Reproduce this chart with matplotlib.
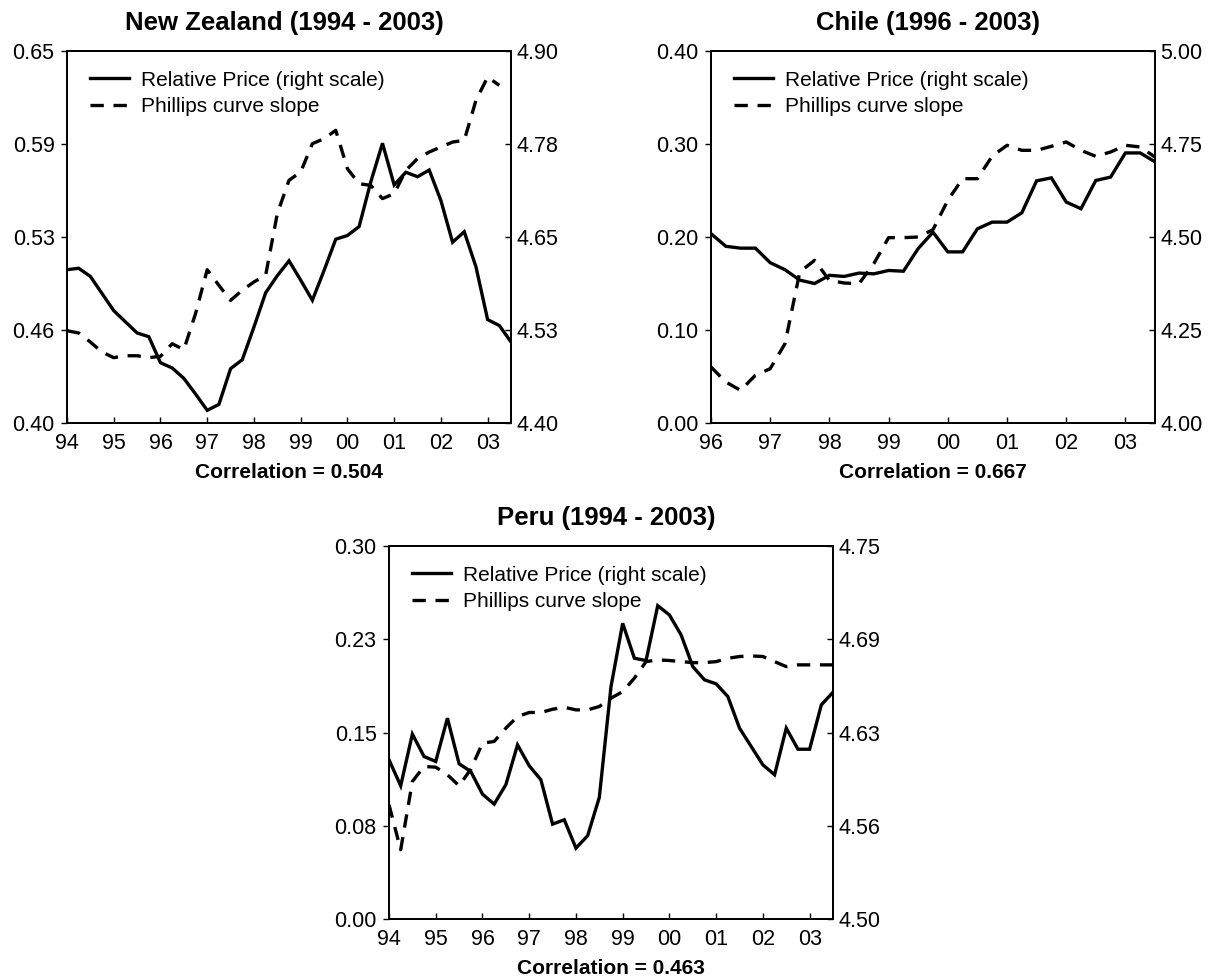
import numpy as np
import matplotlib
matplotlib.use("Agg")
import matplotlib.pyplot as plt
from matplotlib.lines import Line2D

plt.rcParams['font.family'] = ['Liberation Sans', 'DejaVu Sans']

# ---------------- data (quarterly) ----------------
nz_start = 1994
nz_relative_price = [4.606, 4.608, 4.597, 4.574, 4.551, 4.536, 4.521, 4.516,
                     4.481, 4.474, 4.460, 4.439, 4.417, 4.425, 4.473, 4.485,
                     4.529, 4.575, 4.598, 4.618, 4.592, 4.565, 4.605, 4.647,
                     4.652, 4.664, 4.724, 4.776, 4.720, 4.737, 4.731, 4.740,
                     4.699, 4.643, 4.657, 4.610, 4.539, 4.531, 4.509]
nz_phillips = [0.462, 0.4605, 0.4544, 0.4477, 0.4439, 0.4452, 0.4452, 0.4439,
               0.4448, 0.4533, 0.4493, 0.4735, 0.503, 0.4925, 0.4824, 0.4892,
               0.4948, 0.4992, 0.5407, 0.5631, 0.5687, 0.5877, 0.5911, 0.5967,
               0.5709, 0.5608, 0.5597, 0.5508, 0.5541, 0.5698, 0.5777, 0.5821,
               0.5855, 0.5888, 0.5900, 0.6168, 0.6325, 0.6269]

cl_start = 1996
cl_relative_price = [4.509, 4.475, 4.470, 4.470, 4.431, 4.412, 4.384, 4.375,
                     4.397, 4.394, 4.403, 4.401, 4.410, 4.408, 4.469, 4.513,
                     4.460, 4.460, 4.522, 4.540, 4.540, 4.565, 4.651, 4.659,
                     4.594, 4.576, 4.652, 4.661, 4.726, 4.726, 4.702]
cl_phillips = [0.0602, 0.0441, 0.0351, 0.0513, 0.0584, 0.0853, 0.1624, 0.1749,
               0.1534, 0.1505, 0.1498, 0.1713, 0.1993, 0.1993, 0.2000, 0.2079,
               0.2394, 0.2627, 0.2627, 0.2870, 0.2986, 0.2932, 0.2932, 0.2975,
               0.3022, 0.2932, 0.2867, 0.2914, 0.2986, 0.2968, 0.2860]

pe_start = 1994
pe_relative_price = [4.6067, 4.5893, 4.6239, 4.6089, 4.6056, 4.6346, 4.6040, 4.5989,
                     4.5837, 4.5770, 4.5900, 4.6167, 4.6027, 4.5933, 4.5636, 4.5665,
                     4.5475, 4.5558, 4.5815, 4.6558, 4.6982, 4.6748, 4.6732, 4.7100,
                     4.7038, 4.6904, 4.6692, 4.6603, 4.6576, 4.6491, 4.6279, 4.6156,
                     4.6033, 4.5967, 4.6279, 4.6138, 4.6138, 4.6435, 4.6520]
pe_phillips = [0.0919, 0.0557, 0.1106, 0.1227, 0.1221, 0.1160, 0.1071, 0.1205,
               0.1414, 0.1428, 0.1535, 0.1628, 0.1661, 0.1661, 0.1687, 0.1703,
               0.1682, 0.1682, 0.1709, 0.1776, 0.1829, 0.1937, 0.2070, 0.2084,
               0.2079, 0.2070, 0.2062, 0.2062, 0.2070, 0.2097, 0.2111, 0.2116,
               0.2111, 0.2070, 0.2030, 0.2044, 0.2044, 0.2044, 0.2044]

titles = ["New Zealand (1994 - 2003)", "Chile (1996 - 2003)", "Peru (1994 - 2003)"]
correlations = ["Correlation = 0.504", "Correlation = 0.667", "Correlation = 0.463"]
legend_labels = ["Relative Price (right scale)", "Phillips curve slope"]

nz_left = (0.40, 0.65, ["0.40", "0.46", "0.53", "0.59", "0.65"])
nz_right = (4.40, 4.90, ["4.40", "4.53", "4.65", "4.78", "4.90"])
cl_left = (0.00, 0.40, ["0.00", "0.10", "0.20", "0.30", "0.40"])
cl_right = (4.00, 5.00, ["4.00", "4.25", "4.50", "4.75", "5.00"])
pe_left = (0.00, 0.30, ["0.00", "0.08", "0.15", "0.23", "0.30"])
pe_right = (4.50, 4.75, ["4.50", "4.56", "4.63", "4.69", "4.75"])

# ---------------- figure ----------------
W, H = 1212, 980
fig = plt.figure(figsize=(W / 100, H / 100), dpi=100)

LW = 2.4
DASH = (0, (4.0, 2.9))
TICK_FS = 15.5
TITLE_FS = 18.5
CORR_FS = 15
LEG_FS = 15


def panel(left_px, top_px, right_px, bottom_px, start_year, rel, phil,
          lscale, rscale, title, corr):
    ax = fig.add_axes([left_px / W, 1 - bottom_px / H,
                       (right_px - left_px) / W, (bottom_px - top_px) / H])
    ax2 = ax.twinx()
    x_rel = start_year + 0.25 * np.arange(len(rel))
    x_phil = start_year + 0.25 * np.arange(len(phil))
    ax.plot(x_phil, phil, color='black', lw=LW, linestyle=DASH)
    ax2.plot(x_rel, rel, color='black', lw=LW, solid_joinstyle='miter')

    ax.set_xlim(start_year, 2003.5)
    years = list(range(start_year, 2004))
    ax.set_xticks(years)
    ax.set_xticklabels(["%02d" % (y % 100) for y in years])

    lo, hi, labs = lscale
    ax.set_ylim(lo, hi)
    ax.set_yticks(np.linspace(lo, hi, len(labs)))
    ax.set_yticklabels(labs)
    lo, hi, labs = rscale
    ax2.set_ylim(lo, hi)
    ax2.set_yticks(np.linspace(lo, hi, len(labs)))
    ax2.set_yticklabels(labs)

    for a in (ax, ax2):
        for s in a.spines.values():
            s.set_linewidth(1.3)
    ax.tick_params(axis='x', direction='in', length=4, width=1, pad=7,
                   labelsize=TICK_FS)
    ax.tick_params(axis='y', direction='out', length=4, width=1, pad=5,
                   labelsize=TICK_FS)
    ax2.tick_params(axis='y', direction='in', length=4, width=1, pad=4,
                    labelsize=TICK_FS)

    handles = [Line2D([], [], color='black', lw=LW),
               Line2D([], [], color='black', lw=LW, linestyle=DASH)]
    ax2.legend(handles, legend_labels, loc='upper left',
               bbox_to_anchor=(0.052, 0.947), frameon=False, fontsize=LEG_FS,
               borderaxespad=0, borderpad=0, handlelength=1.85,
               handletextpad=0.6, labelspacing=0.35)

    cx = (left_px + right_px) / 2 / W
    fig.text(cx - 5 / W, 1 - (top_px - 28) / H, title, ha='center', va='center',
             fontsize=TITLE_FS, fontweight='bold')
    fig.text(cx, 1 - (bottom_px + 49) / H, corr, ha='center', va='center',
             fontsize=CORR_FS, fontweight='bold')


panel(67, 51, 511, 423, nz_start, nz_relative_price, nz_phillips,
      nz_left, nz_right, titles[0], correlations[0])
panel(711, 51, 1155, 423, cl_start, cl_relative_price, cl_phillips,
      cl_left, cl_right, titles[1], correlations[1])
panel(389, 546, 833, 919, pe_start, pe_relative_price, pe_phillips,
      pe_left, pe_right, titles[2], correlations[2])

fig.savefig("out.png", dpi=100, facecolor='white')
